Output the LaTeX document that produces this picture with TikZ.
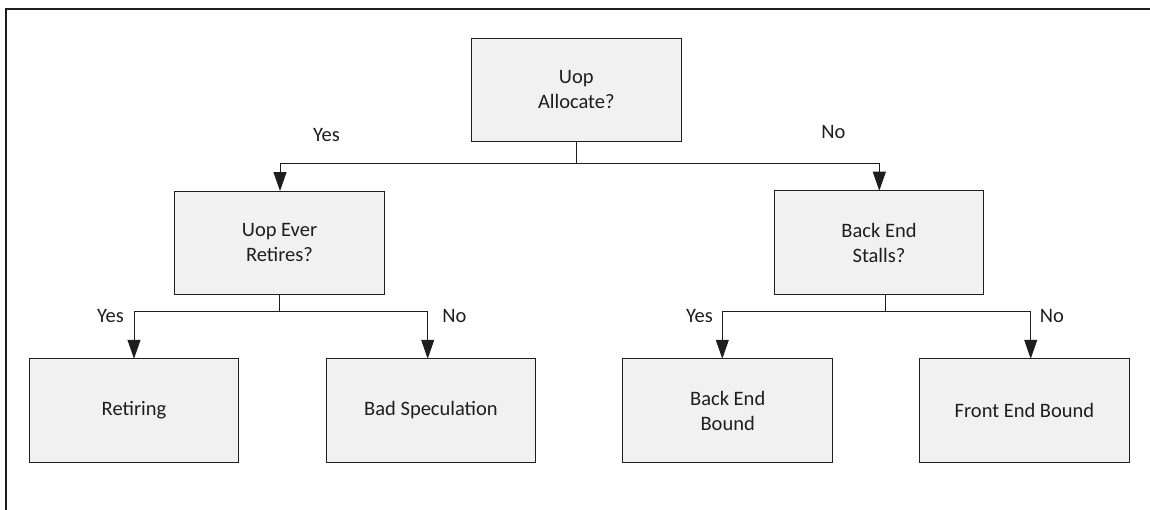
\documentclass[tikz,border=0pt]{standalone}
\usepackage{fontspec}
\setmainfont{Carlito}
\usetikzlibrary{arrows.meta,calc}
\definecolor{boxfill}{HTML}{F1F1F1}
\definecolor{ink}{HTML}{1E1E1E}
\tikzset{
  box/.style={draw=ink, line width=1pt, fill=boxfill, rectangle,
    minimum width=209.5pt, minimum height=103.5pt, inner sep=0pt, outer sep=0pt,
    align=center, text=ink, font=\fontsize{20.5}{25}\selectfont},
  conn/.style={draw=ink, line width=1pt},
  arr/.style={conn, -{Triangle[length=19pt,width=13pt]}},
  lbl/.style={text=ink, font=\fontsize{20.5}{25}\selectfont, inner sep=0pt},
  frame/.style={draw=ink, line width=1.2pt}
}
\begin{document}
\begin{tikzpicture}[x=1pt,y=-1pt]
\useasboundingbox (0,0) rectangle (1150,510);
% outer frame (left and top edges visible)
\coordinate (fbl) at (6,512);
\coordinate (ftl) at (6,9);
\coordinate (ftr) at (1152,9);
\draw[frame] (fbl) -- (ftl) -- (ftr);

% boxes
\node[box] (A) at (576.3,90) {Uop\\Allocate?};
\node[box] (B) at (279.5,242.8) {Uop Ever\\Retires?};
\node[box] (C) at (879,242.5) {Back End\\Stalls?};
\node[box] (D) at (134,410.5) {Retiring};
\node[box] (E) at (431,410.5) {Bad Speculation};
\node[box] (F) at (727.7,410.5) {Back End\\Bound};
\node[box] (G) at (1024.5,410.5) {Front End Bound};

% junctions
\coordinate (jA) at (576.3,163.3);
\coordinate (jB) at (279.5,312);
\coordinate (jC) at (885,312);

% connectors from A
\draw[conn] (A.south) -- (jA);
\draw[arr] (jA) -| ([xshift=0.5pt]B.north);
\draw[arr] (jA) -| ([xshift=0.3pt]C.north);

% connectors from B
\draw[conn] (B.south) -- (jB);
\draw[arr] (jB) -| (D.north);
\draw[arr] (jB) -| ([xshift=-3.3pt]E.north);

% connectors from C
\draw[conn] ([xshift=6pt]C.south) -- (jC);
\draw[arr] (jC) -| ([xshift=-5.4pt]F.north);
\draw[arr] (jC) -| ([xshift=6.2pt]G.north);

% labels
\node[lbl] (yA) at (326.5,135) {Yes};
\node[lbl] (nA) at (833.5,132) {No};
\node[lbl] (yB) at (110.5,316) {Yes};
\node[lbl] (nB) at (454.5,316) {No};
\node[lbl] (yC) at (699.5,316) {Yes};
\node[lbl] (nC) at (1052,316) {No};
\end{tikzpicture}
\end{document}
